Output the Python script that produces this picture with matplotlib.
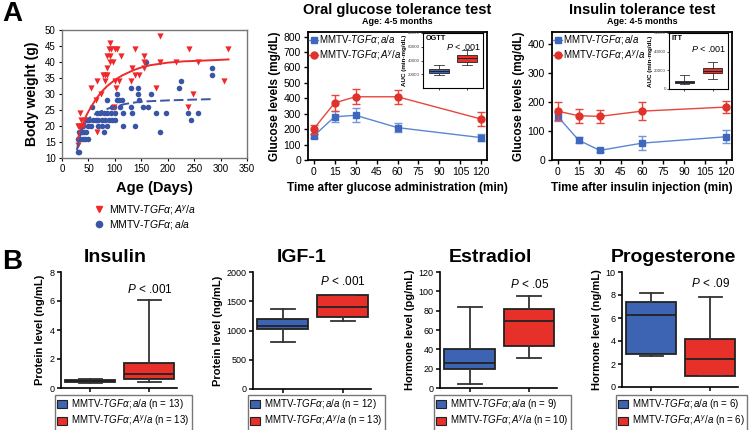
import matplotlib
matplotlib.use('Agg')
import matplotlib.pyplot as plt
from matplotlib.lines import Line2D
from matplotlib.patches import Patch

plt.rcParams['font.family'] = ['Liberation Sans', 'DejaVu Sans']
plt.rcParams['mathtext.fontset'] = 'custom'
plt.rcParams['mathtext.rm'] = 'Liberation Sans'
plt.rcParams['mathtext.it'] = 'Liberation Sans:italic'
plt.rcParams['mathtext.bf'] = 'Liberation Sans:bold'

W, H = 749, 430
BLUE = '#3d63b3'
RED = '#e8302a'
LAB_AA = r'MMTV-$\mathit{TGF\alpha{;}a/a}$'
LAB_AY = r'MMTV-$\mathit{TGF\alpha{;}A^{y}/a}$'

# ---- Panel A: body weight vs age ----
red_days = [31, 33, 35, 36, 43, 30, 40, 54, 66, 64, 66, 74, 78, 82, 82, 85, 85, 88, 91, 93,
            85, 91, 91, 96, 100, 101, 98, 103, 104, 108, 112, 131, 132, 139, 139, 145, 156,
            156, 156, 178, 185, 186, 216, 241, 238, 247, 257, 306, 314]
red_weight = [14, 20, 24, 22, 22, 20, 20, 32, 34, 28, 18, 30, 36, 36, 34, 38, 36, 44, 46, 44,
              42, 42, 40, 40, 44, 34, 26, 32, 44, 34, 42, 34, 38, 44, 36, 36, 42,
              40, 38, 32, 48, 40, 40, 44, 26, 30, 40, 34, 44]
blue_days = [30, 33, 30, 35, 33, 35, 39, 38, 42, 46, 40, 44, 49, 49, 54, 47, 52, 58, 64, 69,
             75, 82, 88, 94, 101, 57, 66, 71, 80, 86, 69, 76, 79, 85, 85, 92, 95, 98, 101,
             104, 105, 107, 109, 113, 116, 116, 131, 131, 132, 139, 144, 144, 145, 154, 163,
             158, 168, 177, 185, 197, 222, 225, 238, 245, 257, 284, 284]
blue_weight = [12, 12, 16, 16, 18, 20, 20, 18, 18, 18, 16, 16, 16, 20, 20, 22, 22, 22, 22, 22,
               22, 22, 22, 22, 22, 26, 24, 24, 24, 24, 20, 20, 18, 20, 28, 24, 26, 26, 24,
               30, 28, 28, 26, 28, 24, 20, 32, 26, 24, 20, 32, 30, 28, 26, 26,
               40, 30, 24, 18, 24, 32, 34, 24, 22, 24, 38, 36]
# fitted growth curves
red_fit_days = [30, 35, 40, 47, 55, 66, 75, 85, 100, 115, 136, 150, 167, 200, 230, 262, 290, 315]
red_fit_weight = [16, 18.8, 21, 23.6, 26, 28.8, 30.7, 32.4, 34.4, 35.9, 37.5, 38.3, 39,
                  39.8, 40.2, 40.4, 40.6, 40.8]
blue_fit_days = [28, 33, 38, 43, 50, 60, 70, 80, 90, 100, 120, 140, 160, 200, 240, 285]
blue_fit_weight = [12.5, 16, 19, 20.8, 22.3, 23.5, 24.3, 25, 25.6, 26, 26.9, 27.4, 27.7,
                   28, 28.2, 28.4]

# ---- OGTT / ITT ----
time_min = [0, 15, 30, 60, 120]
ogtt_aa = [155, 280, 290, 210, 145]
ogtt_aa_err = [15, 35, 45, 30, 25]
ogtt_ay = [200, 370, 410, 410, 265]
ogtt_ay_err = [30, 50, 50, 45, 45]
itt_aa = [150, 68, 33, 58, 80]
itt_aa_err = [15, 10, 5, 25, 22]
itt_ay = [168, 152, 150, 168, 182]
itt_ay_err = [30, 25, 22, 30, 22]

# AUC boxes: whislo, q1, med, q3, whishi
ogtt_auc_aa = [19000, 22000, 25000, 28000, 33000]
ogtt_auc_ay = [33000, 38000, 43000, 48000, 55000]
itt_auc_aa = [5000, 6500, 8000, 9000, 15000]
itt_auc_ay = [11000, 17000, 19500, 22000, 29000]

# ---- Panel B hormones: whislo, q1, med, q3, whishi ----
insulin_aa = [0.35, 0.38, 0.45, 0.55, 0.65]
insulin_ay = [0.42, 0.6, 1.0, 1.75, 6.05]
igf_aa = [810, 1020, 1080, 1200, 1360]
igf_ay = [1160, 1230, 1410, 1600, 1610]
estradiol_aa = [4, 20, 26, 40, 84]
estradiol_ay = [31, 43, 69, 82, 95]
prog_aa = [2.7, 2.9, 6.3, 7.4, 8.2]
prog_ay = [1.0, 1.0, 2.45, 4.2, 7.8]
n_insulin = (13, 13)
n_igf = (12, 13)
n_estradiol = (9, 10)
n_prog = (6, 6)


def rect(l, r, t, b):
    return [l / W, 1 - b / H, (r - l) / W, (b - t) / H]


def fx(px):
    return px / W


def fy(py):
    return 1 - py / H


def stats(v):
    return dict(whislo=v[0], q1=v[1], med=v[2], q3=v[3], whishi=v[4], fliers=[])


fig = plt.figure(figsize=(W / 100, H / 100), dpi=100)

fig.text(fx(2), fy(14), 'A', fontsize=20, fontweight='bold', va='center')
fig.text(fx(2), fy(262), 'B', fontsize=20, fontweight='bold', va='center')

# scatter
ax = fig.add_axes(rect(62, 247, 30, 158))
ax.scatter(blue_days, blue_weight, marker='o', s=16, color='#3b55a6', linewidths=0, zorder=2)
ax.scatter(red_days, red_weight, marker='v', s=20, color='#f0282a', linewidths=0, zorder=3)
ax.plot(red_fit_days, red_fit_weight, color='#ee2a2a', lw=1.4, zorder=4)
ax.plot(blue_fit_days, blue_fit_weight, color='#3b55a6', lw=1.4, ls=(0, (5, 2)), zorder=4)
ax.set_xlim(0, 350)
ax.set_ylim(10, 50)
ax.set_xticks(range(0, 351, 50))
ax.set_yticks(range(10, 51, 5))
ax.tick_params(labelsize=7, length=2.5, width=0.8, pad=2)
for s in ax.spines.values():
    s.set_color('#777777')
    s.set_linewidth(1)
ax.set_xlabel('Age (Days)', fontsize=10.5, fontweight='bold', labelpad=5)
ax.set_ylabel('Body weight (g)', fontsize=10, fontweight='bold', labelpad=4)
sc_handles = [Line2D([0], [0], marker='v', color='#f0282a', ls='none', ms=5, label=LAB_AY),
              Line2D([0], [0], marker='o', color='#3b55a6', ls='none', ms=4.5, label=LAB_AA)]
fig.legend(handles=sc_handles, loc='upper left', bbox_to_anchor=(fx(88), fy(198)),
           frameon=False, fontsize=7.5, handletextpad=0.3, labelspacing=0.15,
           borderpad=0, handlelength=1.2)


def tolerance_panel(r, title, aa, aa_err, ay, ay_err, ymax, yticks, xlabel, inset_r,
                    auc_aa, auc_ay, auc_ymax, auc_ticks, inset_name, p_y):
    ax = fig.add_axes(r)
    ax.errorbar(time_min, aa, yerr=aa_err, fmt='-s', color='#5a86d4', mfc='#3d68bd',
                mec='#3d68bd', ms=5, lw=1, capsize=3, elinewidth=1, ecolor='#6f97dc',
                zorder=3)
    ax.errorbar(time_min, ay, yerr=ay_err, fmt='-o', color='#e8453c', mfc='#e0322a',
                mec='#e0322a', ms=5, lw=1, capsize=3, elinewidth=1, ecolor='#e8453c',
                zorder=4)
    ax.set_xlim(-4, 124)
    ax.set_ylim(0, ymax)
    ax.set_xticks(range(0, 121, 15))
    ax.set_yticks(yticks)
    ax.tick_params(labelsize=7.5, length=3, width=1, pad=2)
    for s in ax.spines.values():
        s.set_linewidth(1.3)
    ax.set_ylabel('Glucose levels (mg/dL)', fontsize=8.5, fontweight='bold', labelpad=2)
    ax.set_xlabel(xlabel, fontsize=8.5, fontweight='bold', labelpad=4)
    cx = r[0] + r[2] / 2
    fig.text(cx, fy(10), title, fontsize=10.5, fontweight='bold', ha='center', va='center')
    fig.text(cx, fy(22), 'Age: 4-5 months', fontsize=6.5, fontweight='bold',
             ha='center', va='center')
    handles = [Line2D([0], [0], color='#5a86d4', marker='s', mfc='#3d68bd', mec='#3d68bd',
                      ms=5, lw=1, label=LAB_AA),
               Line2D([0], [0], color='#e8453c', marker='o', mfc='#e0322a', mec='#e0322a',
                      ms=5, lw=1, label=LAB_AY)]
    ax.legend(handles=handles, loc='upper left', frameon=False, fontsize=7,
              handlelength=0.9, handletextpad=0.1, labelspacing=0.2,
              borderaxespad=0.05, borderpad=0.1)

    ai = fig.add_axes(inset_r)
    bp = ai.bxp([stats(auc_aa), stats(auc_ay)], positions=[1, 2], widths=0.7,
                patch_artist=True, showfliers=False, capwidths=0.35,
                boxprops=dict(linewidth=0.6, edgecolor='#222222'),
                medianprops=dict(color='#222222', linewidth=0.7),
                whiskerprops=dict(color='#333333', linewidth=0.6),
                capprops=dict(color='#333333', linewidth=0.6))
    bp['boxes'][0].set_facecolor(BLUE)
    bp['boxes'][1].set_facecolor(RED)
    ai.set_xlim(0.45, 2.55)
    ai.set_ylim(0, auc_ymax)
    ai.set_yticks(auc_ticks)
    ai.set_xticks([1, 2])
    ai.set_xticklabels([])
    ai.tick_params(labelsize=3.2, length=1.5, width=0.5, pad=0.8, labelcolor='#444444')
    for s in ai.spines.values():
        s.set_linewidth(0.8)
    ai.set_ylabel('AUC (min·mg/dL)', fontsize=4.5, fontweight='bold', labelpad=0.3)
    ai.text(0.05, 0.9, inset_name, transform=ai.transAxes, fontsize=5.2,
            fontweight='bold', va='center')
    ai.text(0.98, p_y, r'$\mathit{P}$ < .001', transform=ai.transAxes, fontsize=6.5,
            ha='right', va='center')


tolerance_panel(rect(308, 487, 32, 160), 'Oral glucose tolerance test', ogtt_aa, ogtt_aa_err,
                ogtt_ay, ogtt_ay_err, 830, range(0, 801, 100),
                'Time after glucose administration (min)', rect(423, 483, 33, 88),
                ogtt_auc_aa, ogtt_auc_ay, 80000, [20000, 40000, 60000, 80000], 'OGTT', 0.74)
tolerance_panel(rect(552, 732, 32, 160), 'Insulin tolerance test', itt_aa, itt_aa_err,
                itt_ay, itt_ay_err, 440, range(0, 401, 100),
                'Time after insulin injection (min)', rect(669, 728, 33, 89),
                itt_auc_aa, itt_auc_ay, 60000, [0, 20000, 40000, 60000], 'ITT', 0.72)


def hormone_panel(r, title, title_x, aa, ay, ymax, yticks, ylabel, ptext, p_val, n, leg_x):
    ax = fig.add_axes(r)
    bp = ax.bxp([stats(aa), stats(ay)], positions=[1, 2], widths=0.85,
                patch_artist=True, showfliers=False, capwidths=0.4,
                boxprops=dict(linewidth=1.3, edgecolor='#222222'),
                medianprops=dict(color='#222222', linewidth=1.3),
                whiskerprops=dict(color='#333333', linewidth=1.3),
                capprops=dict(color='#333333', linewidth=1.3))
    bp['boxes'][0].set_facecolor(BLUE)
    bp['boxes'][1].set_facecolor(RED)
    ax.set_xlim(0.5, 2.47)
    ax.set_ylim(0, ymax)
    ax.set_yticks(yticks)
    ax.set_xticks([1, 2])
    ax.set_xticklabels([])
    ax.spines['top'].set_visible(False)
    ax.spines['right'].set_visible(False)
    for s in ('left', 'bottom'):
        ax.spines[s].set_linewidth(1.2)
    ax.tick_params(labelsize=6.5, length=3, width=1.1, pad=1.5)
    ax.set_ylabel(ylabel, fontsize=8, fontweight='bold', labelpad=3)
    ax.text(2, p_val, ptext, fontsize=8.5, ha='center', va='center')
    fig.text(fx(title_x), fy(258), title, fontsize=14, fontweight='bold',
             ha='center', va='center')
    handles = [Patch(facecolor=BLUE, edgecolor='#222222', lw=0.8,
                     label=LAB_AA + f' (n = {n[0]})'),
               Patch(facecolor=RED, edgecolor='#222222', lw=0.8,
                     label=LAB_AY + f' (n = {n[1]})')]
    leg = ax.legend(handles=handles, loc='upper left', bbox_to_anchor=(fx(leg_x), fy(395)),
                    bbox_transform=fig.transFigure, fontsize=7, fancybox=False,
                    handlelength=1.0, handleheight=1.0, handletextpad=0.4,
                    labelspacing=0.25, borderpad=0.25, borderaxespad=0)
    leg.get_frame().set_edgecolor('#555555')
    leg.get_frame().set_linewidth(1)


hormone_panel(rect(61, 177, 272, 388), 'Insulin', 115, insulin_aa, insulin_ay, 8,
              [0, 2, 4, 6, 8], 'Protein level (ng/mL)', r'$\mathit{P}$ < .001', 6.8,
              n_insulin, 55)
hormone_panel(rect(253, 371, 272, 389), 'IGF-1', 302, igf_aa, igf_ay, 2000,
              [0, 500, 1000, 1500, 2000], 'Protein level (ng/mL)', r'$\mathit{P}$ < .001',
              1830, n_igf, 248)
hormone_panel(rect(440, 557, 272, 388), 'Estradiol', 490, estradiol_aa, estradiol_ay, 120,
              [0, 20, 40, 60, 80, 100, 120], 'Hormone level (pg/mL)', r'$\mathit{P}$ < .05',
              107, n_estradiol, 434)
hormone_panel(rect(622, 738, 272, 387), 'Progesterone', 673, prog_aa, prog_ay, 10,
              [0, 2, 4, 6, 8, 10], 'Hormone level (ng/mL)', r'$\mathit{P}$ < .09',
              9.0, n_prog, 616)

fig.savefig('out.png', dpi=100, facecolor='white')
